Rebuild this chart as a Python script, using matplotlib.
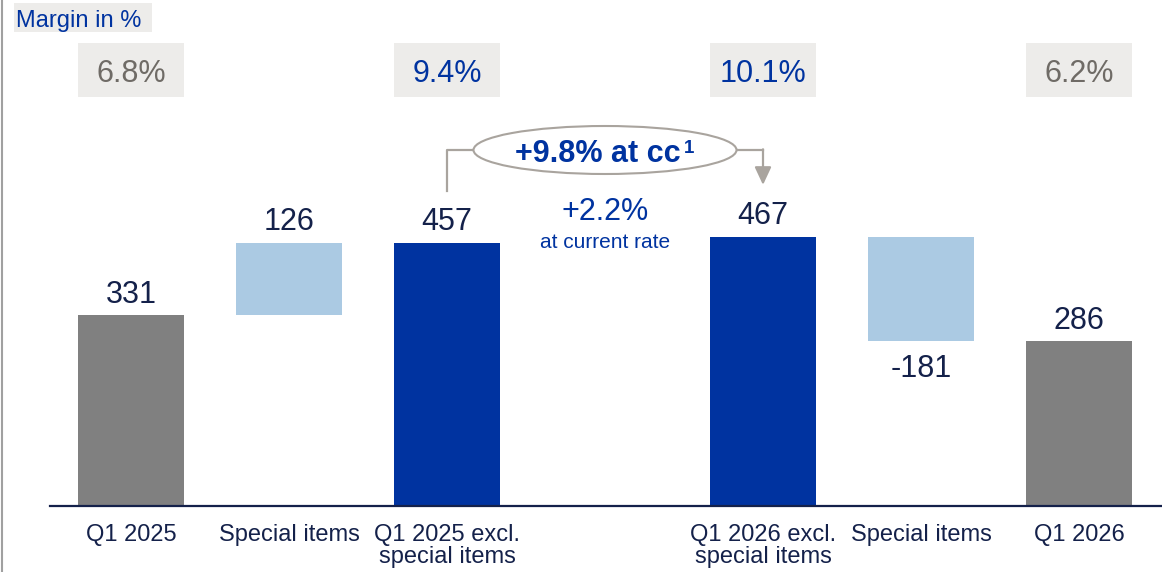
import matplotlib
matplotlib.use("Agg")
import matplotlib.pyplot as plt
from matplotlib.patches import Rectangle, Ellipse
from matplotlib import transforms

plt.rcParams["font.family"] = ["Liberation Sans", "DejaVu Sans"]

# EBIT bridge, EUR m
labels = ["Q1 2025", "Special items", "Q1 2025 excl.\nspecial items",
          "Q1 2026 excl.\nspecial items", "Special items", "Q1 2026"]
positions = [0, 1, 2, 4, 5, 6]
values = [331, 126, 457, 467, -181, 286]
kinds = ["total", "delta", "adjusted", "adjusted", "delta", "total"]

margin_pos = [0, 2, 4, 6]
margins = [6.8, 9.4, 10.1, 6.2]
margin_kind = ["total", "adjusted", "adjusted", "total"]

cc_growth = 9.8

GRAY = "#808080"
LIGHT = "#abcae3"
BLUE = "#0033a0"
NAVY = "#14214a"
LINE_GRAY = "#a9a49e"
BOX_BG = "#edecea"
BOX_TXT = "#6f6b66"

W, H = 1162, 572
fig = plt.figure(figsize=(W / 100, H / 100), dpi=100)
ax = fig.add_axes([0, 0, 1, 1])
ax.axis("off")

# pixel layout: slot width 158 px, first bar centred at 131 px, baseline at 506 px
slot, first, base, ppu = 158.0, 131.0, 506.0, 0.5765
ax.set_xlim(-first / slot, (W - first) / slot)
ax.set_ylim(-(H - base) / ppu, base / ppu)
bar_w = 106 / slot

colors = {"total": GRAY, "delta": LIGHT, "adjusted": BLUE}

# waterfall bars
bottoms = []
for i, (v, k) in enumerate(zip(values, kinds)):
    bottoms.append(values[i - 1] if k == "delta" else 0)
ax.bar(positions, values, bottom=bottoms, width=bar_w,
       color=[colors[k] for k in kinds], zorder=2)

for x, v, b, k in zip(positions, values, bottoms, kinds):
    if v < 0:
        ax.annotate(f"{v}", (x, b + v), xytext=(0, -26), textcoords="offset points",
                    ha="center", va="baseline", fontsize=22, color=NAVY)
    else:
        ax.annotate(f"{v}", (x, b + v), xytext=(0, 9), textcoords="offset points",
                    ha="center", va="baseline", fontsize=22, color=NAVY)

# baseline
ax.plot([(50 - first) / slot, (W - first) / slot], [0, 0], color=NAVY, lw=1.6, zorder=3)

for x, lab in zip(positions, labels):
    ax.annotate(lab, (x, 0), xytext=(0, -13), textcoords="offset points",
                ha="center", va="top", fontsize=17, color=NAVY, linespacing=1.0)

# margin row
blend = transforms.blended_transform_factory(ax.transData, ax.transAxes)
for x, m, k in zip(margin_pos, margins, margin_kind):
    ax.add_patch(Rectangle((x - bar_w / 2, 1 - 97 / H), bar_w, 54 / H,
                           transform=blend, facecolor=BOX_BG, edgecolor="none"))
    ax.text(x, 1 - 82 / H, f"{m:.1f}%", transform=blend, ha="center", va="baseline",
            fontsize=22, color=BLUE if k == "adjusted" else BOX_TXT)

fig.add_artist(Rectangle((14 / W, 1 - 32 / H), 138 / W, 29 / H,
                         transform=fig.transFigure, facecolor=BOX_BG, edgecolor="none"))
fig.text(16 / W, 1 - 27 / H, "Margin in %", ha="left", va="baseline",
         fontsize=17, color=BLUE)

# left frame line
fig.add_artist(plt.Line2D([2 / W, 2 / W], [0, 1], transform=fig.transFigure,
                          color="#a0a0a0", lw=1.5))

# growth bracket between the two adjusted figures
v_a, v_b = values[2], values[3]
ell_x = 3
ell_y = (base - 150) / ppu
ell_w, ell_h = 263 / slot, 48 / ppu
gap = 90
ax.plot([2, 2, ell_x - ell_w / 2], [v_a + gap, ell_y, ell_y], color=LINE_GRAY, lw=1.6, zorder=1)
ax.plot([ell_x + ell_w / 2, 4], [ell_y, ell_y], color=LINE_GRAY, lw=1.6, zorder=1)
ax.annotate("", xy=(4, v_b + gap), xytext=(4, ell_y + 1.2),
            arrowprops=dict(arrowstyle="-|>,head_length=0.6,head_width=0.28",
                            mutation_scale=18, color=LINE_GRAY, lw=1.6,
                            shrinkA=0, shrinkB=0))
ax.add_patch(Ellipse((ell_x, ell_y), ell_w, ell_h, facecolor="white",
                     edgecolor=LINE_GRAY, lw=1.5, zorder=3))
main = ax.annotate(f"+{cc_growth:.1f}% at cc", (ell_x, ell_y), xytext=(-5, -9),
                   textcoords="offset points", ha="center", va="baseline",
                   fontsize=22, fontweight="bold", color=BLUE, zorder=4)
# footnote marker, raised above the main baseline
ax.annotate("1", xy=(1, ell_y), xycoords=(main, "data"), xytext=(2, -2.2),
            textcoords="offset points", ha="left", va="baseline",
            fontsize=13.5, fontweight="bold", color=BLUE, zorder=4)

growth = (v_b / v_a - 1) * 100
ax.text(3, (base - 220) / ppu, f"+{growth:.1f}%", ha="center", va="baseline",
        fontsize=22, color=BLUE)
ax.text(3, (base - 248) / ppu, "at current rate", ha="center", va="baseline",
        fontsize=15, color=BLUE)

fig.savefig("out.png", dpi=100)
